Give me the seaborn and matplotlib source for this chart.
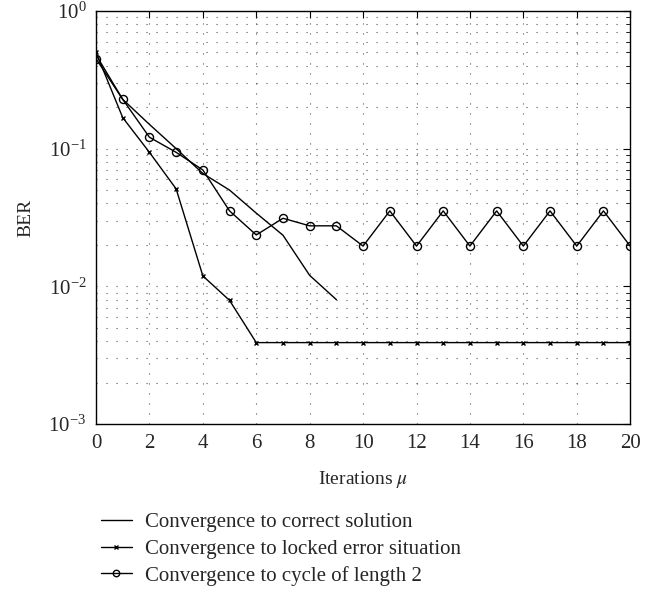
import matplotlib
matplotlib.use("Agg")
import matplotlib.pyplot as plt
import seaborn as sns
import pandas as pd
from matplotlib.ticker import LogLocator, MultipleLocator

# BER vs iterations
iters_correct = [0, 1, 2, 3, 4, 5, 6, 7, 8, 9]
ber_correct = [0.48, 0.228, 0.15, 0.10, 0.066, 0.050, 0.034, 0.0235, 0.012, 0.0080]

iters_locked = list(range(21))
ber_locked = [0.50, 0.168, 0.094, 0.051, 0.0119, 0.0079] + [0.0039] * 15

iters_cycle = list(range(21))
ber_cycle = [0.45, 0.228, 0.121, 0.094, 0.070, 0.0353, 0.0236, 0.0312, 0.0275, 0.0275,
             0.0196, 0.0353, 0.0196, 0.0353, 0.0196, 0.0353, 0.0196, 0.0353, 0.0196,
             0.0353, 0.0196]

labels = ["Convergence to correct solution",
          "Convergence to locked error situation",
          "Convergence to cycle of length 2"]

sns.set_style("white")
plt.rcParams["font.family"] = ["Liberation Serif", "DejaVu Serif"]
plt.rcParams["mathtext.fontset"] = "stix"

fig = plt.figure(figsize=(6.51, 5.90), dpi=100)
ax = fig.add_axes([0.1475, 0.2814, 0.8205, 0.7])

df_c = pd.DataFrame({"it": iters_correct, "ber": ber_correct})
df_l = pd.DataFrame({"it": iters_locked, "ber": ber_locked})
df_y = pd.DataFrame({"it": iters_cycle, "ber": ber_cycle})

sns.lineplot(data=df_c, x="it", y="ber", ax=ax, color="black", linewidth=1.0,
             label=labels[0])
sns.lineplot(data=df_l, x="it", y="ber", ax=ax, color="black", linewidth=1.0,
             marker="x", markersize=3.5, markeredgecolor="black",
             markeredgewidth=1.0, label=labels[1])
sns.lineplot(data=df_y, x="it", y="ber", ax=ax, color="black", linewidth=1.0,
             marker="o", markersize=5.8, markerfacecolor="none",
             markeredgecolor="black", markeredgewidth=1.0, label=labels[2])

ax.set_yscale("log")
ax.set_xlim(0, 20)
ax.set_ylim(1e-3, 1)
ax.xaxis.set_major_locator(MultipleLocator(2))
ax.yaxis.set_major_locator(LogLocator(base=10, numticks=10))
ax.yaxis.set_minor_locator(LogLocator(base=10, subs=range(2, 10), numticks=10))

ax.grid(True, which="major", axis="x", color="#555555", linestyle=(0, (1, 8)), linewidth=0.8)
ax.grid(True, which="both", axis="y", color="#555555", linestyle=(0, (1, 8)), linewidth=0.8)

ax.tick_params(which="both", direction="in", top=True, right=True, labelsize=15,
               color="black", pad=7)
ax.tick_params(which="major", length=5)
ax.tick_params(which="minor", length=3)
for s in ax.spines.values():
    s.set_color("black")
    s.set_linewidth(1.0)

ax.set_xlabel(r"Iterations $\mu$", fontsize=14, labelpad=12)
ax.set_ylabel("BER", fontsize=14, labelpad=10)

handles, labs = ax.get_legend_handles_labels()
ax.get_legend().remove()
fig.legend(handles, labs, loc="upper left", bbox_to_anchor=(0.142, 0.145),
           frameon=False, fontsize=15, handlelength=1.5, labelspacing=0.33,
           handletextpad=0.6, borderaxespad=0, markerscale=0.8)

fig.savefig("out.png", dpi=100)
